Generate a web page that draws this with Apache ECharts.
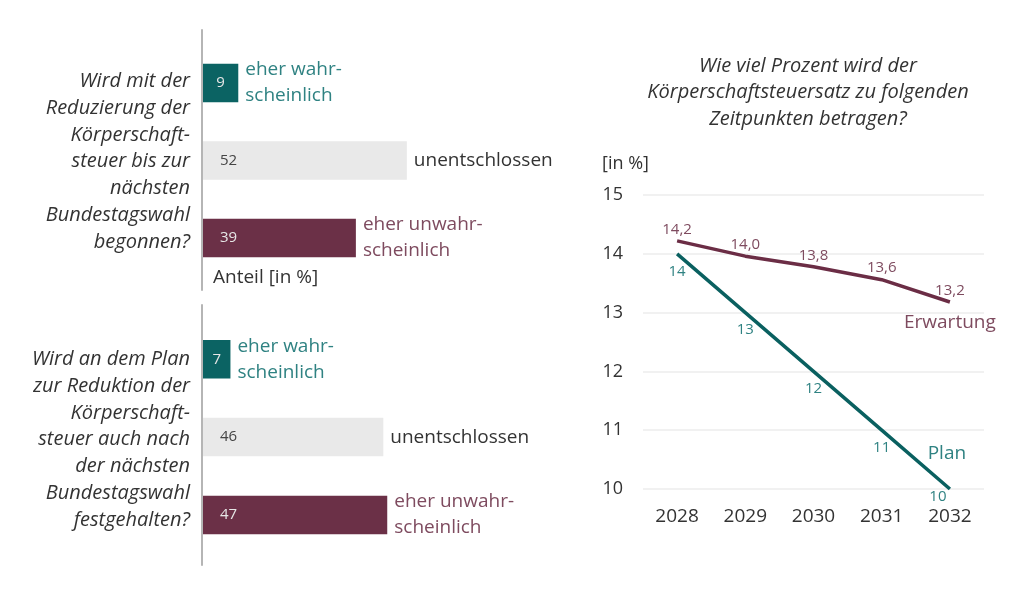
<!DOCTYPE html>
<html><head><meta charset="utf-8">
<script src="https://cdn.jsdelivr.net/npm/echarts@6/dist/echarts.min.js"></script>
<style>html,body{margin:0;padding:0;background:#fff}#c{width:1024px;height:610px}</style>
</head><body><div id="c"></div>
<script>
// ---- data ----
const answerCats = ['eher wahr-\nscheinlich', 'unentschlossen', 'eher unwahr-\nscheinlich'];
const q1Values = [9, 52, 39];
const q2Values = [7, 46, 47];
const q1Text = 'Wird mit der\nReduzierung der\nKörperschaft-\nsteuer bis zur\nnächsten\nBundestagswahl\nbegonnen?';
const q2Text = 'Wird an dem Plan\nzur Reduktion der\nKörperschaft-\nsteuer auch nach\nder nächsten\nBundestagswahl\nfestgehalten?';
const barAxisNote = 'Anteil [in %]';
const lineTitle = 'Wie viel Prozent wird der\nKörperschaftsteuersatz zu folgenden\nZeitpunkten betragen?';
const lineUnit = '[in %]';
const years = ['2028', '2029', '2030', '2031', '2032'];
const planValues = [14, 13, 12, 11, 10];
const erwartungValues = [14.22, 13.96, 13.78, 13.56, 13.18];
const planName = 'Plan';
const erwartungName = 'Erwartung';

// ---- styles ----
const FONT = '"Open Sans", "Noto Sans", sans-serif';
const TEAL = '#0b6363', TEAL_T = '#2f8282';
const MAR = '#6b3047', MAR_T = '#7e4b5f';
const GREY = '#e9e9e9', DARK = '#333333';
const barColors = [TEAL, GREY, MAR];
const catColors = [TEAL_T, DARK, MAR_T];
const valColors = ['#e6e6e6', '#444', '#e6e6e6'];

function barData(vals) {
  return vals.map((v, i) => ({
    value: v,
    itemStyle: { color: barColors[i] },
    label: {
      color: valColors[i],
      position: v < 15 ? 'inside' : 'insideLeft',
      distance: v < 15 ? 0 : 17
    }
  }));
}
function catData(vals) {
  return vals.map((v, i) => ({
    value: v,
    label: { color: catColors[i], formatter: answerCats[i] }
  }));
}

const chart = echarts.init(document.getElementById('c'), null, { renderer: 'canvas' });
const hiddenX = (gi, max) => ({ type: 'value', gridIndex: gi, min: 0, max: max, show: false });
const catY = (gi) => ({ type: 'category', gridIndex: gi, data: answerCats, inverse: true,
  axisLine: { show: false }, axisTick: { show: false }, axisLabel: { show: false } });
const lineAxisY = (gi) => ({ type: 'category', gridIndex: gi, data: [''],
  axisLine: { show: true, lineStyle: { color: '#b5b5b5', width: 2 } },
  axisTick: { show: false }, axisLabel: { show: false } });

const option = {
  animation: false,
  textStyle: { fontFamily: FONT },
  grid: [
    { left: 203, top: 44.3, width: 392, height: 232.4 },
    { left: 203, top: 320.4, width: 392, height: 233.4 },
    { left: 202, top: 30, width: 10, height: 260 },
    { left: 202, top: 305, width: 10, height: 260 },
    { left: 643, top: 195, width: 341, height: 294 }
  ],
  xAxis: [
    hiddenX(0, 100), hiddenX(1, 100), hiddenX(2, 1), hiddenX(3, 1),
    { type: 'category', gridIndex: 4, data: years, boundaryGap: true,
      axisLine: { show: false }, axisTick: { show: false },
      axisLabel: { color: DARK, fontSize: 19, margin: 18, fontFamily: FONT } }
  ],
  yAxis: [
    catY(0), catY(1), lineAxisY(2), lineAxisY(3),
    { type: 'value', gridIndex: 4, min: 10, max: 15, interval: 1,
      axisLine: { show: false }, axisTick: { show: false },
      splitLine: { lineStyle: { color: '#ececec', width: 1.5 } },
      axisLabel: { color: DARK, fontSize: 18, margin: 20, fontFamily: FONT } }
  ],
  graphic: [
    { type: 'text', x: 190, y: 161.7, style: { text: q1Text, align: 'right', verticalAlign: 'middle',
        font: 'italic 20px ' + FONT, lineHeight: 26.7, fill: DARK } },
    { type: 'text', x: 190, y: 439.7, style: { text: q2Text, align: 'right', verticalAlign: 'middle',
        font: 'italic 20px ' + FONT, lineHeight: 26.7, fill: DARK } },
    { type: 'text', x: 213, y: 278, style: { text: barAxisNote, align: 'left', verticalAlign: 'middle',
        font: '19px ' + FONT, fill: DARK } },
    { type: 'text', x: 808, y: 92.5, style: { text: lineTitle, align: 'center', verticalAlign: 'middle',
        font: 'italic 20px ' + FONT, lineHeight: 26.5, fill: DARK } },
    { type: 'text', x: 602, y: 164, style: { text: lineUnit, align: 'left', verticalAlign: 'middle',
        font: '18px ' + FONT, fill: DARK } }
  ],
  series: [
    { type: 'bar', xAxisIndex: 0, yAxisIndex: 0, data: barData(q1Values), barWidth: 38.5,
      label: { show: true, fontSize: 15, fontFamily: FONT }, silent: true },
    { type: 'bar', xAxisIndex: 0, yAxisIndex: 0, data: catData(q1Values), barWidth: 38.5, barGap: '-100%',
      itemStyle: { color: 'rgba(0,0,0,0)' }, silent: true,
      label: { show: true, position: 'right', distance: 7, fontSize: 19, lineHeight: 26, fontFamily: FONT } },
    { type: 'bar', xAxisIndex: 1, yAxisIndex: 1, data: barData(q2Values), barWidth: 38.5,
      label: { show: true, fontSize: 15, fontFamily: FONT }, silent: true },
    { type: 'bar', xAxisIndex: 1, yAxisIndex: 1, data: catData(q2Values), barWidth: 38.5, barGap: '-100%',
      itemStyle: { color: 'rgba(0,0,0,0)' }, silent: true,
      label: { show: true, position: 'right', distance: 7, fontSize: 19, lineHeight: 26, fontFamily: FONT } },
    { type: 'line', name: erwartungName, xAxisIndex: 4, yAxisIndex: 4, data: erwartungValues,
      symbol: 'circle', symbolSize: 0, showSymbol: true, silent: true,
      lineStyle: { color: '#6b2d45', width: 3.5 }, itemStyle: { color: '#6b2d45' },
      label: { show: true, position: 'top', distance: 4, color: MAR_T, fontSize: 15, fontFamily: FONT,
        formatter: p => p.value.toFixed(1).replace('.', ',') },
      endLabel: { show: true, formatter: erwartungName, color: MAR_T, fontSize: 19, fontFamily: FONT,
        align: 'center', verticalAlign: 'middle', distance: 0, offset: [0, 21] } },
    { type: 'line', name: planName, xAxisIndex: 4, yAxisIndex: 4,
      data: planValues.map((v, i) => i === planValues.length - 1
        ? { value: v, label: { offset: [-12, -10] } } : v),
      symbol: 'circle', symbolSize: 0, showSymbol: true, silent: true,
      lineStyle: { color: '#0a6060', width: 3.5 }, itemStyle: { color: '#0a6060' },
      label: { show: true, position: 'bottom', distance: 10, color: TEAL_T, fontSize: 15, fontFamily: FONT },
      endLabel: { show: true, formatter: planName, color: TEAL_T, fontSize: 19, fontFamily: FONT,
        align: 'center', verticalAlign: 'middle', distance: 0, offset: [-3, -35] } }
  ]
};
chart.setOption(option);
</script></body></html>
